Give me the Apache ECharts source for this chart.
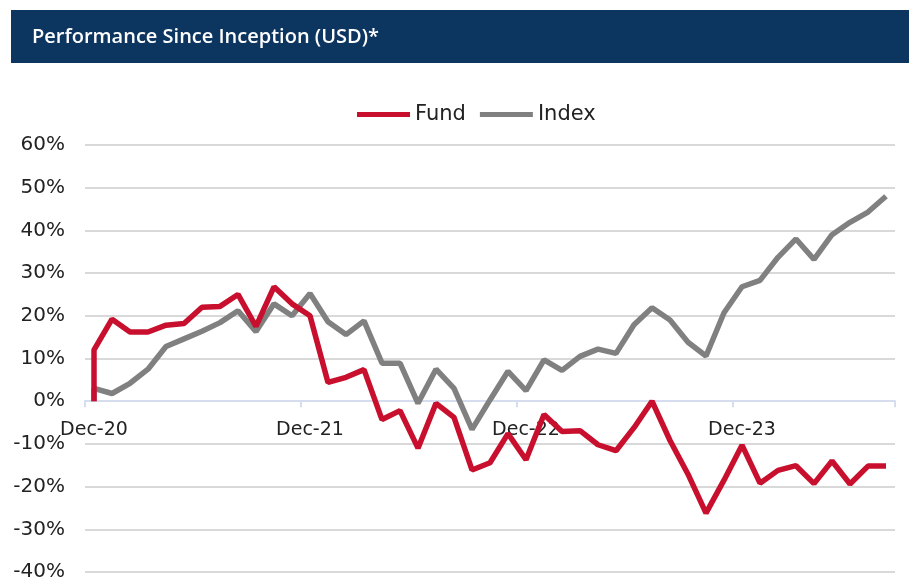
<!DOCTYPE html>
<html>
<head>
<meta charset="utf-8">
<script src="https://cdn.jsdelivr.net/npm/echarts@6/dist/echarts.min.js"></script>
<style>
  html, body { margin: 0; padding: 0; background: #fff; }
  #chart { width: 909px; height: 578px; }
</style>
</head>
<body>
<div id="chart"></div>
<script>
// month-end labels, Dec-20 .. Aug-24
const months = [
  'Dec-20', 'Jan-21', 'Feb-21', 'Mar-21', 'Apr-21', 'May-21', 'Jun-21', 'Jul-21', 'Aug-21', 'Sep-21', 'Oct-21', 'Nov-21',
  'Dec-21', 'Jan-22', 'Feb-22', 'Mar-22', 'Apr-22', 'May-22', 'Jun-22', 'Jul-22', 'Aug-22', 'Sep-22', 'Oct-22', 'Nov-22',
  'Dec-22', 'Jan-23', 'Feb-23', 'Mar-23', 'Apr-23', 'May-23', 'Jun-23', 'Jul-23', 'Aug-23', 'Sep-23', 'Oct-23', 'Nov-23',
  'Dec-23', 'Jan-24', 'Feb-24', 'Mar-24', 'Apr-24', 'May-24', 'Jun-24', 'Jul-24', 'Aug-24'
];

// both series start at 0% on the inception date (same month as Dec-20)
const inceptionValue = 0;

// cumulative performance, %
const fundValues = [
  12, 19.2, 16.2, 16.2, 17.8, 18.2, 22, 22.2, 25, 17.5, 26.8, 22.8,
  20, 4.4, 5.6, 7.4, -4.3, -2.2, -11, -0.5, -3.8, -16.1, -14.4, -7.6,
  -13.7, -3.1, -7.1, -6.9, -10.2, -11.6, -6.2, 0, -9.2, -17.1, -26.2, -18.5,
  -10.3, -19.2, -16.2, -15.1, -19.3, -14, -19.4, -15.2, -15.2
];
const indexValues = [
  3, 1.8, 4.2, 7.5, 12.8, 14.6, 16.4, 18.4, 21.2, 16.3, 22.8, 20,
  25.2, 18.6, 15.6, 18.8, 8.9, 8.9, -0.5, 7.5, 3, -6.6, 0.3, 7,
  2.5, 9.7, 7.2, 10.5, 12.2, 11.2, 17.9, 21.9, 19, 13.8, 10.6, 20.7,
  26.8, 28.3, 33.7, 38, 33.2, 39, 41.9, 44.3, 48
];

const yMin = -40, yMax = 60, yStep = 10;

const FONT = 'DejaVu Sans';
const GRID_TOP = 145, GRID_BOTTOM = 6, H = 578;

function toPairs(values) {
  // first point is the inception date, drawn at the Dec-20 slot too
  const out = [[0, inceptionValue]];
  values.forEach((v, i) => out.push([i, v]));
  return out;
}

// move the category axis up to the 0% line
const gridH = H - GRID_TOP - GRID_BOTTOM;
const zeroOffset = -gridH * (0 - yMin) / (yMax - yMin);

const chart = echarts.init(document.getElementById('chart'));

const option = {
  animation: false,
  graphic: [
    {
      type: 'rect',
      left: 11, top: 10,
      shape: { width: 898, height: 53 },
      style: { fill: '#0c355f' }
    },
    {
      type: 'text',
      left: 32, top: 27,
      style: {
        text: 'Performance Since Inception (USD)*',
        fill: '#fff',
        font: '600 20px "Open Sans"'
      }
    }
  ],
  legend: {
    top: 99,
    left: 352,
    icon: 'rect',
    itemWidth: 53,
    itemHeight: 5,
    itemGap: 14,
    textStyle: { fontFamily: FONT, fontSize: 21, color: '#222' },
    data: ['Fund', 'Index']
  },
  grid: { left: 85, right: 14, top: GRID_TOP, bottom: GRID_BOTTOM, containLabel: false, outerBoundsMode: 'none' },
  xAxis: {
    type: 'category',
    data: months,
    boundaryGap: true,
    offset: zeroOffset,
    axisLine: { onZero: false, lineStyle: { color: '#d5ddef', width: 2 } },
    axisTick: { show: true, interval: 11, length: 6, lineStyle: { color: '#d5ddef', width: 2 } },
    axisLabel: {
      interval: 11,
      margin: 19,
      fontFamily: FONT,
      fontSize: 19,
      color: '#222'
    },
    splitLine: { show: false }
  },
  yAxis: {
    type: 'value',
    min: yMin,
    max: yMax,
    interval: yStep,
    axisLine: { show: false },
    axisTick: { show: false },
    axisLabel: {
      margin: 20,
      fontFamily: FONT,
      fontSize: 20,
      color: '#222',
      formatter: v => v + '%'
    },
    splitLine: { lineStyle: { color: '#d9d9d9', width: 2 } }
  },
  series: [
    {
      name: 'Fund',
      type: 'line',
      data: toPairs(fundValues),
      showSymbol: false,
      symbol: 'none',
      lineStyle: { color: '#c8102e', width: 5.5 },
      itemStyle: { color: '#c8102e' },
      z: 3
    },
    {
      name: 'Index',
      type: 'line',
      data: toPairs(indexValues),
      showSymbol: false,
      symbol: 'none',
      lineStyle: { color: '#808080', width: 5.5 },
      itemStyle: { color: '#808080' },
      z: 2
    }
  ]
};

chart.setOption(option);
</script>
</body>
</html>
